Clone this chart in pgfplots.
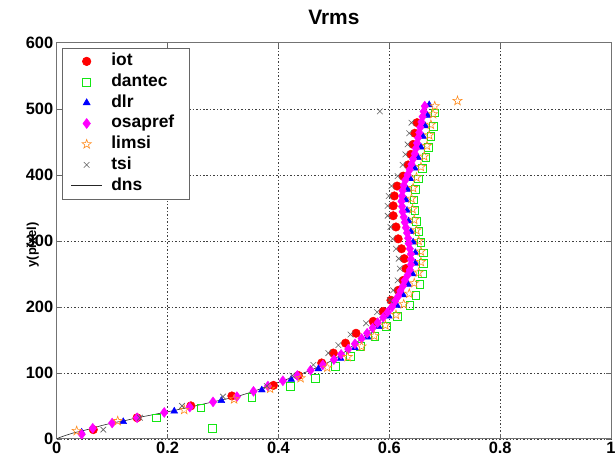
\documentclass[border=0pt]{standalone}
\usepackage{fontspec}
\setmainfont{Liberation Sans}
\usepackage{pgfplots}
\pgfplotsset{compat=1.18}
\usetikzlibrary{plotmarks}

\definecolor{iotred}{RGB}{255,0,0}
\definecolor{dangreen}{RGB}{20,230,20}
\definecolor{dlrblue}{RGB}{0,0,255}
\definecolor{osamag}{RGB}{255,0,255}
\definecolor{limorange}{RGB}{255,140,30}
\definecolor{tsigray}{RGB}{95,95,95}

% open five-pointed star, like matlab's pentagram
\pgfdeclareplotmark{pentagram}{%
  \pgfpathmoveto{\pgfqpointpolar{90}{\pgfplotmarksize}}%
  \pgfpathlineto{\pgfqpointpolar{126}{0.4\pgfplotmarksize}}%
  \pgfpathlineto{\pgfqpointpolar{162}{\pgfplotmarksize}}%
  \pgfpathlineto{\pgfqpointpolar{198}{0.4\pgfplotmarksize}}%
  \pgfpathlineto{\pgfqpointpolar{234}{\pgfplotmarksize}}%
  \pgfpathlineto{\pgfqpointpolar{270}{0.4\pgfplotmarksize}}%
  \pgfpathlineto{\pgfqpointpolar{306}{\pgfplotmarksize}}%
  \pgfpathlineto{\pgfqpointpolar{342}{0.4\pgfplotmarksize}}%
  \pgfpathlineto{\pgfqpointpolar{18}{\pgfplotmarksize}}%
  \pgfpathlineto{\pgfqpointpolar{54}{0.4\pgfplotmarksize}}%
  \pgfpathclose
  \pgfusepathqstroke}

\newcommand\lgd[1]{\makebox[64pt][l]{#1}}

\begin{document}
\begin{tikzpicture}
\begin{axis}[
    at={(0,0)}, anchor=south west,
    width=557pt, height=398pt, scale only axis,
    xmin=0, xmax=1, ymin=0, ymax=600,
    xtick={0,0.2,0.4,0.6,0.8,1},
    xticklabels={0,0.2,0.4,0.6,0.8,1},
    ytick={0,100,200,300,400,500,600},
    yticklabels={0,100,200,300,400,500,600},
    grid=major,
    grid style={black!75, dash pattern=on 1.5pt off 2pt, line width=0.6pt},
    axis line style={black!55, line width=0.8pt},
    tick align=inside, major tick length=5pt,
    tick style={black!60, line width=0.6pt},
    ticklabel style={font=\fontsize{16.5}{18}\selectfont\bfseries},
    title={Vrms},
    title style={font=\fontsize{21}{23}\selectfont\bfseries, at={(0.5,1)}, anchor=base, yshift=12pt},
    ylabel={y(pixel)},
    ylabel style={font=\fontsize{13}{15}\selectfont\bfseries, at={(axis description cs:-0.043,0.49)}, anchor=center},
    legend cell align=left,
    legend image code/.code={\draw[mark repeat=2,mark phase=2,#1] plot coordinates {(0pt,0pt) (15.5pt,0pt) (31pt,0pt)};},
    legend style={
        at={(axis description cs:0,1)}, anchor=north west,
        xshift=5pt, yshift=-5pt,
        draw=black!60, line width=0.6pt, fill=white,
        inner xsep=9pt, inner ysep=3pt, column sep=4pt,
        font=\fontsize{17.5}{18}\selectfont\bfseries,
        nodes={inner xsep=5pt, inner ysep=2.4pt, text height=12.5pt, text depth=3.5pt},
    },
]
% iot
\addplot[only marks, mark=*, mark size=4.3pt, color=iotred, fill=iotred] coordinates {
(0.066,14) (0.145,32) (0.242,50) (0.316,65) (0.391,81) (0.436,96) (0.478,115)
(0.499,130) (0.521,145) (0.540,160) (0.571,178) (0.589,193) (0.603,210)
(0.616,225) (0.625,240) (0.630,258) (0.627,273) (0.622,288) (0.616,303)
(0.612,321) (0.607,338) (0.607,353) (0.609,368) (0.614,383) (0.625,398)
(0.634,415) (0.639,431) (0.643,446) (0.646,463) (0.650,479)
};
% dantec
\addplot[only marks, mark=square, mark size=3.9pt, color=dangreen, line width=0.6pt] coordinates {
(0.280,16) (0.180,32) (0.260,47) (0.352,63) (0.421,80) (0.466,92) (0.502,110)
(0.530,125) (0.547,140) (0.574,155) (0.594,170) (0.615,186) (0.637,202)
(0.648,218) (0.655,234) (0.660,250) (0.662,266) (0.661,282) (0.657,298)
(0.653,314) (0.649,330) (0.646,346) (0.644,362) (0.647,378) (0.652,394)
(0.660,410) (0.666,426) (0.671,442) (0.675,458) (0.679,474) (0.682,494)
};
% dlr
\addplot[only marks, mark=triangle*, mark size=4pt, color=dlrblue, fill=dlrblue] coordinates {
(0.045,10) (0.120,26) (0.212,42) (0.297,58) (0.370,74) (0.423,90) (0.472,106)
(0.512,122) (0.538,138) (0.561,154) (0.581,170) (0.599,186) (0.614,202)
(0.625,218) (0.634,234) (0.642,250) (0.647,266) (0.647,282) (0.643,298)
(0.639,314) (0.635,330) (0.632,346) (0.630,362) (0.633,378) (0.638,394)
(0.646,410) (0.652,426) (0.657,442) (0.661,458) (0.665,474) (0.669,490)
(0.672,506)
};
% osapref
\addplot[only marks, mark=diamond*, mark size=5pt, color=osamag, fill=osamag] coordinates {
(0.045,7) (0.065,16) (0.100,24) (0.145,32) (0.194,40) (0.240,48) (0.282,56)
(0.325,64) (0.355,72) (0.381,80) (0.408,88) (0.434,96) (0.458,104) (0.480,112)
(0.500,120) (0.513,128) (0.526,136) (0.538,144) (0.550,152) (0.560,160)
(0.570,168) (0.579,176) (0.589,184) (0.597,192) (0.605,200) (0.610,208)
(0.616,216) (0.620,224) (0.625,232) (0.628,240) (0.633,248) (0.637,256)
(0.639,264) (0.639,272) (0.639,280) (0.637,288) (0.635,296) (0.634,304)
(0.632,312) (0.630,320) (0.628,328) (0.626,336) (0.624,344) (0.623,352)
(0.622,360) (0.623,368) (0.624,376) (0.626,384) (0.629,392) (0.633,400)
(0.637,408) (0.640,416) (0.643,424) (0.646,432) (0.648,440) (0.650,448)
(0.652,456) (0.654,464) (0.656,472) (0.658,480) (0.660,488) (0.662,496)
(0.664,504)
};
% limsi
\addplot[only marks, mark=pentagram, mark size=4.8pt, color=limorange, line width=0.6pt] coordinates {
(0.036,12) (0.110,27) (0.230,44) (0.320,60) (0.385,76) (0.440,92) (0.488,108)
(0.525,124) (0.550,140) (0.573,156) (0.593,172) (0.612,188) (0.626,204)
(0.636,220) (0.645,236) (0.653,252) (0.657,268) (0.657,284) (0.653,300)
(0.649,316) (0.645,332) (0.642,348) (0.640,364) (0.643,380) (0.649,396)
(0.657,412) (0.663,428) (0.668,444) (0.672,460) (0.675,476) (0.679,492)
(0.682,504) (0.723,512)
};
% tsi
\addplot[only marks, mark=x, mark size=4pt, color=tsigray, line width=0.6pt] coordinates {
(0.084,14) (0.150,32) (0.226,50) (0.300,64) (0.379,80) (0.425,96) (0.463,112)
(0.490,130) (0.508,142) (0.530,158) (0.558,175) (0.578,192) (0.601,210)
(0.607,225) (0.615,240) (0.619,258) (0.617,273) (0.612,288) (0.606,303)
(0.602,321) (0.597,338) (0.597,353) (0.599,368) (0.604,383) (0.615,398)
(0.624,415) (0.629,431) (0.633,446) (0.636,463) (0.640,479) (0.583,496)
};
% dns
\addplot[black!85, line width=0.6pt, no marks] coordinates {
(0,0) (0.005,2) (0.015,5) (0.030,9) (0.045,12) (0.060,15) (0.080,20) (0.100,24)
(0.125,28) (0.145,32) (0.170,36) (0.200,41) (0.245,49) (0.287,57) (0.325,64)
(0.352,71) (0.378,79) (0.408,88) (0.437,97) (0.470,108) (0.500,120) (0.525,135)
(0.550,152) (0.570,168) (0.590,185) (0.605,200) (0.615,215) (0.624,230)
(0.632,245) (0.639,262) (0.639,280) (0.635,298) (0.631,315) (0.627,330)
(0.624,345) (0.622,360) (0.624,375) (0.628,390) (0.636,405) (0.644,425)
(0.651,450) (0.657,475) (0.664,505) (0.665,510)
};
\legend{\lgd{iot},\lgd{dantec},\lgd{dlr},\lgd{osapref},\lgd{limsi},\lgd{tsi},\lgd{dns}}
\end{axis}
\pgfresetboundingbox
\path[use as bounding box] (-57pt,-23pt) rectangle (562pt,441pt);
\end{tikzpicture}
\end{document}
